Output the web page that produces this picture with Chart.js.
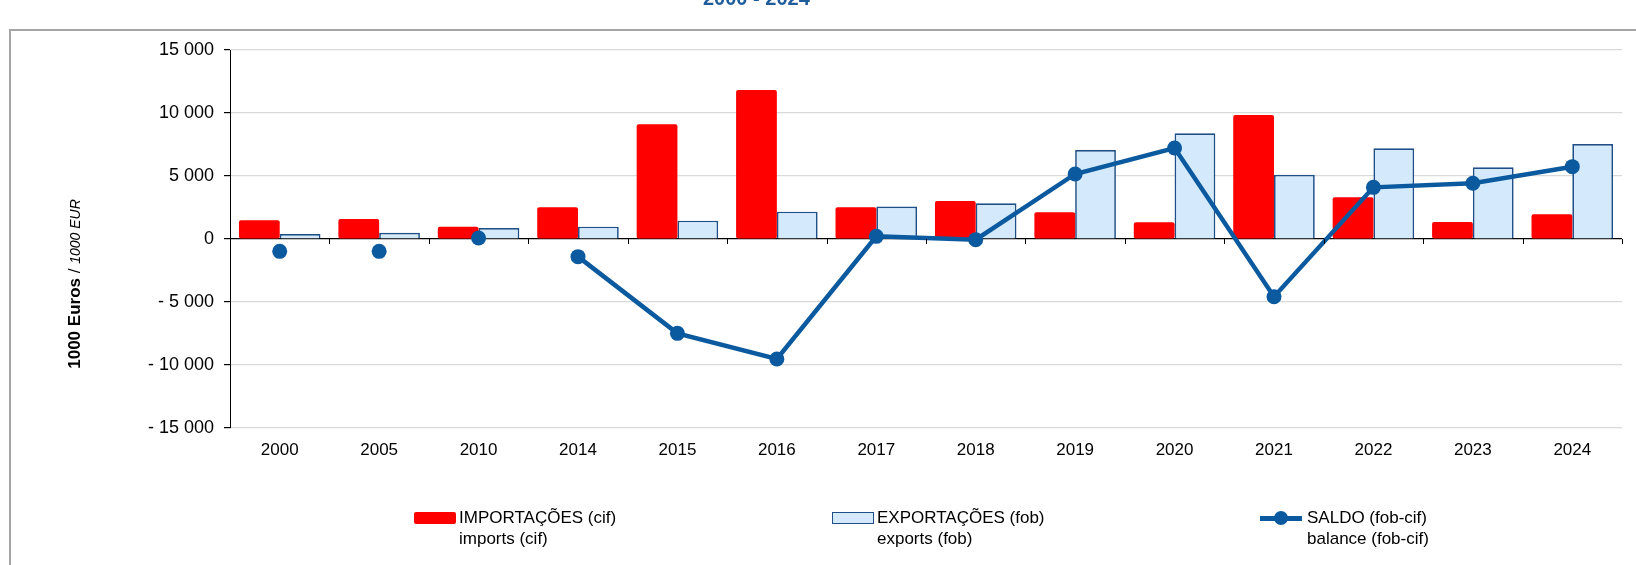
<!DOCTYPE html>
<html>
<head>
<meta charset="utf-8">
<script src="https://cdn.jsdelivr.net/npm/chart.js@4"></script>
<style>
    body { margin: 0; background: #fff; }
    #wrap { position: relative; width: 1636px; height: 565px; overflow: hidden; font-family: "Liberation Sans", Arial, sans-serif; }
    #balancoChart { position: absolute; left: 0; top: 0; }
    .frame-top { position: absolute; left: 9px; top: 29px; width: 1627px; height: 2px; background: #a6a6a6; }
    .frame-left { position: absolute; left: 9px; top: 29px; width: 2px; height: 536px; background: #a6a6a6; }
    .titulo { position: absolute; left: 703px; top: -12px; font: bold 20px/20px "Liberation Sans", Arial, sans-serif; color: #1f5c9c; white-space: nowrap; }
    .leg { position: absolute; top: 507px; font-size: 17px; line-height: 21px; color: #000; }
    .leg .sw { position: absolute; top: 5px; width: 42px; height: 12px; box-sizing: border-box; }
    .leg .txt { position: absolute; white-space: nowrap; }
</style>
</head>
<body>
<div id="wrap">
    <canvas id="balancoChart" width="1636" height="565"></canvas>
    <div class="frame-top"></div>
    <div class="frame-left"></div>
    <div class="titulo">2000 - 2024</div>

    <div class="leg" style="left:414px">
        <div class="sw" style="left:0; background:#ff0000; border-radius:2px"></div>
        <div class="txt" style="left:45px">IMPORTAÇÕES (cif)<br>imports (cif)</div>
    </div>
    <div class="leg" style="left:832px">
        <div class="sw" style="left:0; background:#d4eafc; border:1.5px solid #1f4f86"></div>
        <div class="txt" style="left:45px">EXPORTAÇÕES (fob)<br>exports (fob)</div>
    </div>
    <div class="leg" style="left:1260px">
        <div class="sw" style="left:0; top:9px; height:4.5px; background:#0b5a9f"></div>
        <div class="sw" style="left:14px; top:4px; width:14px; height:14px; border-radius:7px; background:#0b5a9f"></div>
        <div class="txt" style="left:47px">SALDO (fob-cif)<br>balance (fob-cif)</div>
    </div>
</div>

<script>
const anos = ["2000", "2005", "2010", "2014", "2015", "2016", "2017", "2018", "2019", "2020", "2021", "2022", "2023", "2024"];
const importacoes = [1480, 1590, 980, 2510, 9100, 11830, 2520, 3020, 2120, 1320, 9840, 3310, 1350, 1960];
const exportacoes = [400, 500, 870, 980, 1455, 2170, 2570, 2830, 7060, 8390, 5100, 7200, 5690, 7540];
const saldo = [-980, -980, 80, -1400, -7490, -9520, 210, -50, 5160, 7220, -4580, 4100, 4420, 5740];
const yTicks = [-15000, -10000, -5000, 0, 5000, 10000, 15000];

const corLinha = "#0b5a9f";

function formatar(v) {
    const s = String(Math.abs(v)).replace(/\B(?=(\d{3})+(?!\d))/g, " ");
    return (v < 0 ? "- " : "") + s;
}

// titulo do eixo y (negrito + italico) e marcas no eixo zero
const extras = {
    id: "extras",
    afterDatasetsDraw(chart) {
        const c = chart.ctx;
        const x = chart.scales.x;
        const y = chart.scales.y;
        const y0 = y.getPixelForValue(0);
        c.save();
        c.strokeStyle = "#000";
        c.lineWidth = 1;
        c.beginPath();
        const w = (x.right - x.left) / anos.length;
        for (let i = 1; i <= anos.length; i++) {
            const px = Math.round(x.left + w * i) + 0.5;
            c.moveTo(px, y0);
            c.lineTo(px, y0 + 5);
        }
        c.stroke();
        c.restore();
    },
    afterDraw(chart) {
        const c = chart.ctx;
        c.save();
        c.translate(80, 284);
        c.rotate(-Math.PI / 2);
        c.textBaseline = "alphabetic";
        c.fillStyle = "#000";
        const bold = "bold 17px 'Liberation Sans', Arial, sans-serif";
        const ital = "italic 14px 'Liberation Sans', Arial, sans-serif";
        const reg = "17px 'Liberation Sans', Arial, sans-serif";
        const p1 = "1000 Euros", p2 = " / ", p3 = "1000 EUR";
        c.font = bold; const w1 = c.measureText(p1).width;
        c.font = reg; const w2 = c.measureText(p2).width;
        c.font = ital; const w3 = c.measureText(p3).width;
        let sx = -(w1 + w2 + w3) / 2;
        c.font = bold; c.fillText(p1, sx, 0); sx += w1;
        c.font = reg; c.fillText(p2, sx, 0); sx += w2;
        c.font = ital; c.fillText(p3, sx, 0);
        c.restore();
    },
};

document.addEventListener("DOMContentLoaded", function () {
    Chart.defaults.font.family = "'Liberation Sans', Arial, sans-serif";
    Chart.defaults.color = "#000";

    const el = document.getElementById("balancoChart");
    new Chart(el.getContext("2d"), {
        type: "bar",
        data: {
            labels: anos,
            datasets: [
                {
                    type: "line",
                    label: "SALDO (fob-cif)",
                    data: saldo,
                    borderColor: corLinha,
                    backgroundColor: corLinha,
                    borderWidth: 4.5,
                    pointRadius: 7.5,
                    pointBorderWidth: 0,
                    pointBackgroundColor: corLinha,
                    tension: 0,
                    order: 0,
                    segment: {
                        borderColor: (ctx) => (ctx.p1DataIndex <= 3 ? "rgba(0,0,0,0)" : corLinha),
                    },
                },
                {
                    label: "IMPORTAÇÕES (cif)",
                    data: importacoes,
                    backgroundColor: "#ff0000",
                    borderWidth: 0,
                    borderRadius: 2,
                    borderSkipped: false,
                    order: 1,
                },
                {
                    label: "EXPORTAÇÕES (fob)",
                    data: exportacoes,
                    backgroundColor: "#d4eafc",
                    borderColor: "#1f4f86",
                    borderWidth: 1.7,
                    borderSkipped: "bottom",
                    order: 1,
                },
            ],
        },
        options: {
            responsive: false,
            animation: false,
            devicePixelRatio: 1,
            datasets: {
                bar: { categoryPercentage: 0.82, barPercentage: 1.0 },
            },
            layout: { padding: { top: 50, right: 14, left: 0, bottom: 0 } },
            plugins: {
                legend: { display: false },
                tooltip: { enabled: false },
            },
            scales: {
                x: {
                    grid: { display: false, drawTicks: false },
                    border: { display: false },
                    ticks: { font: { size: 17 }, padding: 12, color: "#000" },
                    afterFit: (s) => { s.height = 137; },
                },
                y: {
                    min: -15000,
                    max: 15000,
                    afterBuildTicks: (s) => { s.ticks = yTicks.map((v) => ({ value: v })); },
                    afterFit: (s) => { s.width = 230; },
                    grid: {
                        color: (ctx) => (ctx.tick && ctx.tick.value === 0 ? "#000" : "#d9d9d9"),
                        lineWidth: 1.2,
                        tickColor: "#000",
                        tickLength: 6,
                    },
                    border: { display: true, color: "#000", width: 1 },
                    ticks: {
                        font: { size: 18 },
                        padding: 10,
                        color: "#000",
                        callback: (v) => formatar(v),
                    },
                },
            },
        },
        plugins: [extras],
    });
});
</script>
</body>
</html>
